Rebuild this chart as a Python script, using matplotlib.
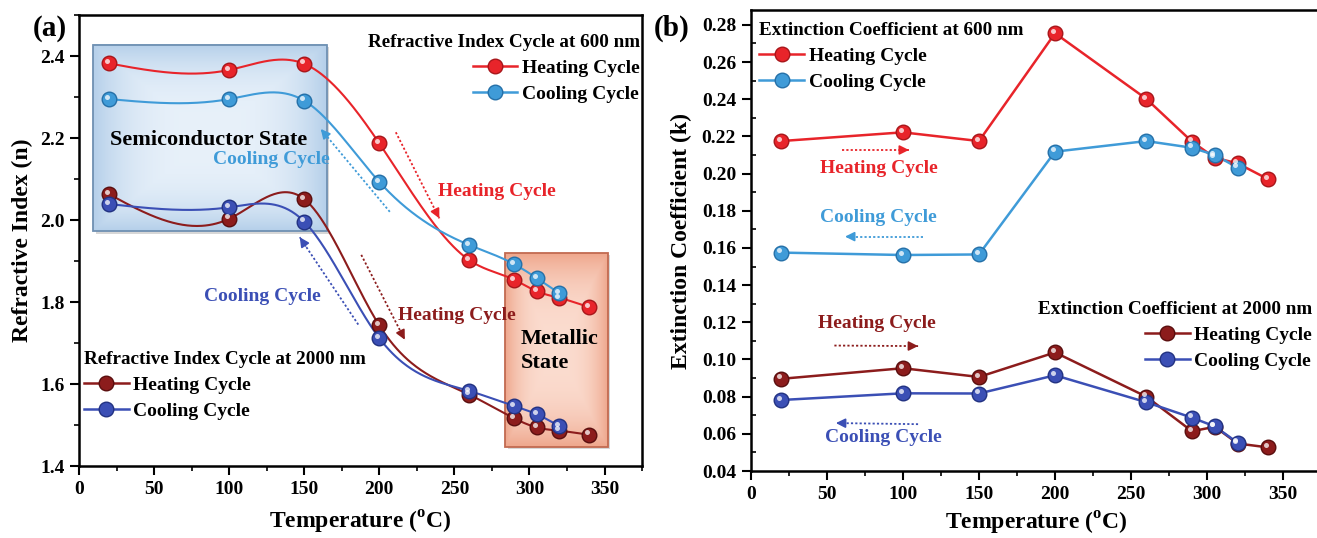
import numpy as np
import matplotlib
matplotlib.use("Agg")
from matplotlib import pyplot as plt
from matplotlib.lines import Line2D
from matplotlib.patches import Rectangle
from matplotlib.ticker import MultipleLocator, FormatStrFormatter
from matplotlib.transforms import offset_copy

plt.rcParams['font.family'] = ['Liberation Serif', 'DejaVu Serif']
plt.rcParams['font.weight'] = 'bold'
plt.rcParams['axes.labelweight'] = 'bold'
plt.rcParams['mathtext.fontset'] = 'custom'
plt.rcParams['mathtext.rm'] = 'Liberation Serif:bold'
plt.rcParams['mathtext.bf'] = 'Liberation Serif:bold'

# ---- data ----
temp_heat = [20, 100, 150, 200, 260, 290, 305, 320, 340]
temp_cool = [20, 100, 150, 200, 260, 290, 305, 320]

n600_heat = [2.382, 2.366, 2.381, 2.187, 1.902, 1.854, 1.826, 1.810, 1.787]
n600_cool = [2.295, 2.295, 2.291, 2.093, 1.939, 1.892, 1.858, 1.821]
n2000_heat = [2.063, 2.003, 2.051, 1.743, 1.574, 1.516, 1.494, 1.486, 1.476]
n2000_cool = [2.039, 2.031, 1.996, 1.712, 1.583, 1.546, 1.526, 1.497]

k600_heat = [0.2175, 0.2222, 0.2175, 0.2755, 0.2402, 0.2172, 0.2085, 0.2055, 0.1970]
k600_cool = [0.1575, 0.1562, 0.1565, 0.2118, 0.2175, 0.2139, 0.2100, 0.2032]
k2000_heat = [0.0896, 0.0953, 0.0906, 0.1038, 0.0800, 0.0614, 0.0638, 0.0548, 0.0527]
k2000_cool = [0.0782, 0.0818, 0.0817, 0.0915, 0.0770, 0.0687, 0.0640, 0.0552]

RED = '#e8242a'
LBLUE = '#3f9bd8'
DRED = '#8c1c1c'
BLUE = '#3b4fb5'
EDGE = {RED: '#a8161a', LBLUE: '#2570a8', DRED: '#5a0e0e', BLUE: '#223282'}

XLABEL = r'Temperature ($^{\mathrm{o}}$C)'


def natural_spline(x, y, n=400):
    x = np.asarray(x, float)
    y = np.asarray(y, float)
    m = len(x)
    h = np.diff(x)
    A = np.zeros((m, m))
    r = np.zeros(m)
    A[0, 0] = A[-1, -1] = 1
    for i in range(1, m - 1):
        A[i, i - 1] = h[i - 1]
        A[i, i] = 2 * (h[i - 1] + h[i])
        A[i, i + 1] = h[i]
        r[i] = 3 * ((y[i + 1] - y[i]) / h[i] - (y[i] - y[i - 1]) / h[i - 1])
    c = np.linalg.solve(A, r)
    b = (y[1:] - y[:-1]) / h - h * (2 * c[:-1] + c[1:]) / 3
    d = (c[1:] - c[:-1]) / (3 * h)
    xs = np.linspace(x[0], x[-1], n)
    idx = np.clip(np.searchsorted(x, xs) - 1, 0, m - 2)
    t = xs - x[idx]
    return xs, y[idx] + b[idx] * t + c[idx] * t ** 2 + d[idx] * t ** 3


def balls(ax, x, y, color, fig):
    ax.plot(x, y, 'o', ms=10.5, mfc=color, mec=EDGE[color], mew=1.0, ls='none', zorder=4)
    tr = offset_copy(ax.transData, fig=fig, x=-1.7, y=1.7, units='points')
    ax.plot(x, y, 'o', ms=3.6, mfc='white', mec='none', alpha=0.75, ls='none',
            transform=tr, zorder=5)


def gradient_box(ax, x0, x1, y0, y1, mid, edge, ec):
    u = np.linspace(-1, 1, 80)
    X, Y = np.meshgrid(u, u)
    w = np.maximum(np.abs(X), np.abs(Y)) ** 3
    mid = np.array(matplotlib.colors.to_rgb(mid))
    edge = np.array(matplotlib.colors.to_rgb(edge))
    img = mid[None, None, :] * (1 - w[..., None]) + edge[None, None, :] * w[..., None]
    ax.imshow(img, extent=(x0, x1, y0, y1), aspect='auto', zorder=0.5,
              interpolation='bilinear')
    ax.add_patch(Rectangle((x0 + 1.5, y0 - 0.006), x1 - x0, y1 - y0, fc='#b0b0b0',
                           ec='none', alpha=0.5, zorder=0.4))
    ax.add_patch(Rectangle((x0, y0), x1 - x0, y1 - y0, fill=False, ec=ec, lw=1.3,
                           zorder=0.6))


def dotted_arrow(ax, start, end, color):
    ax.plot([start[0], end[0]], [start[1], end[1]], ls=(0, (1.2, 1.2)), color=color,
            lw=1.3, zorder=3)
    ax.annotate('', xy=end, xytext=(start[0] + 0.9 * (end[0] - start[0]),
                                    start[1] + 0.9 * (end[1] - start[1])),
                arrowprops=dict(arrowstyle='-|>', color=color, lw=1.2,
                                mutation_scale=14, shrinkA=0, shrinkB=0), zorder=3)


def style_axes(ax, ylo, yhi, ymaj, ymin, fmt):
    ax.set_xlim(0, 375)
    ax.set_ylim(ylo, yhi)
    ax.xaxis.set_major_locator(MultipleLocator(50))
    ax.xaxis.set_minor_locator(MultipleLocator(25))
    ax.yaxis.set_major_locator(MultipleLocator(ymaj))
    ax.yaxis.set_minor_locator(MultipleLocator(ymin))
    ax.yaxis.set_major_formatter(FormatStrFormatter(fmt))
    ax.tick_params(which='major', direction='out', length=6.5, width=1.5,
                   labelsize=14, pad=4)
    ax.tick_params(which='minor', direction='out', length=3.5, width=1.2)
    for sp in ax.spines.values():
        sp.set_linewidth(1.8)


def proxy(color, label):
    return Line2D([], [], color=color, lw=1.8, marker='o', ms=10.5, mfc=color,
                  mec=EDGE[color], label=label)


def add_legend(ax, handles, title, loc, anchor, align):
    return ax.legend(handles=handles, title=title, loc=loc, bbox_to_anchor=anchor,
                     frameon=False, fontsize=14,
                     title_fontproperties={'size': 13.8, 'weight': 'bold'},
                     alignment=align, handlelength=2.3, handletextpad=0.25,
                     labelspacing=0.42, borderpad=0.1, borderaxespad=0.0)


fig = plt.figure(figsize=(13.17, 5.38), dpi=100)
ax_a = fig.add_axes([0.060, 0.1338, 0.4275, 0.8383])
ax_b = fig.add_axes([0.570, 0.1245, 0.4333, 0.8569])

# ---------------- panel (a) ----------------
gradient_box(ax_a, 9.5, 165, 1.972, 2.428, '#e8f1fa', '#b6d0ea', '#6f90b2')
gradient_box(ax_a, 284, 352, 1.447, 1.920, '#fbdccf', '#efa88e', '#c26a50')

for x, y, c in [(temp_heat, n600_heat, RED), (temp_cool, n600_cool, LBLUE),
                (temp_heat, n2000_heat, DRED), (temp_cool, n2000_cool, BLUE)]:
    xs, ys = natural_spline(x, y)
    ax_a.plot(xs, ys, color=c, lw=1.5, zorder=3)
    balls(ax_a, x, y, c, fig)

ax_a.text(86, 2.196, 'Semiconductor State', fontsize=16, ha='center', va='center')
ax_a.text(294, 1.681, 'Metallic\nState', fontsize=16, ha='left', va='center',
          linespacing=1.25)
ax_a.text(128, 2.148, 'Cooling Cycle', color=LBLUE, fontsize=14, ha='center', va='center')
ax_a.text(278, 2.069, 'Heating Cycle', color=RED, fontsize=14, ha='center', va='center')
ax_a.text(122, 1.813, 'Cooling Cycle', color=BLUE, fontsize=14, ha='center', va='center')
ax_a.text(252, 1.767, 'Heating Cycle', color=DRED, fontsize=14, ha='center', va='center')

dotted_arrow(ax_a, (207, 2.02), (161, 2.222), LBLUE)
dotted_arrow(ax_a, (211, 2.214), (240, 2.004), RED)
dotted_arrow(ax_a, (186, 1.745), (147, 1.958), BLUE)
dotted_arrow(ax_a, (188, 1.915), (217, 1.708), DRED)

leg1 = add_legend(ax_a, [proxy(RED, 'Heating Cycle'), proxy(LBLUE, 'Cooling Cycle')],
                  'Refractive Index Cycle at 600 nm', 'upper right', (1.0, 0.962), 'right')
ax_a.add_artist(leg1)
add_legend(ax_a, [proxy(DRED, 'Heating Cycle'), proxy(BLUE, 'Cooling Cycle')],
           'Refractive Index Cycle at 2000 nm', 'upper left', (0.005, 0.259), 'left')

style_axes(ax_a, 1.4, 2.5, 0.2, 0.1, '%.1f')
ax_a.set_xlabel(XLABEL, fontsize=17, labelpad=8)
ax_a.set_ylabel('Refractive Index (n)', fontsize=17, labelpad=5)
ax_a.text(-0.083, 1.0, '(a)', transform=ax_a.transAxes, fontsize=21, ha='left', va='top')

# ---------------- panel (b) ----------------
for x, y, c in [(temp_heat, k600_heat, RED), (temp_cool, k600_cool, LBLUE),
                (temp_heat, k2000_heat, DRED), (temp_cool, k2000_cool, BLUE)]:
    ax_b.plot(x, y, color=c, lw=1.8, zorder=3)
    balls(ax_b, x, y, c, fig)

ax_b.text(84, 0.2029, 'Heating Cycle', color=RED, fontsize=14, ha='center', va='center')
ax_b.text(84, 0.1764, 'Cooling Cycle', color=LBLUE, fontsize=14, ha='center', va='center')
ax_b.text(83, 0.1196, 'Heating Cycle', color=DRED, fontsize=14, ha='center', va='center')
ax_b.text(87, 0.0578, 'Cooling Cycle', color=BLUE, fontsize=14, ha='center', va='center')

dotted_arrow(ax_b, (60, 0.2127), (104, 0.2127), RED)
dotted_arrow(ax_b, (113, 0.1661), (62, 0.1661), LBLUE)
dotted_arrow(ax_b, (55, 0.1075), (110, 0.1072), DRED)
dotted_arrow(ax_b, (110, 0.0652), (56, 0.0658), BLUE)

leg3 = add_legend(ax_b, [proxy(RED, 'Heating Cycle'), proxy(LBLUE, 'Cooling Cycle')],
                  'Extinction Coefficient at 600 nm', 'upper left', (0.012, 0.978), 'left')
ax_b.add_artist(leg3)
add_legend(ax_b, [proxy(DRED, 'Heating Cycle'), proxy(BLUE, 'Cooling Cycle')],
           'Extinction Coefficient at 2000 nm', 'upper left', (0.50, 0.372), 'right')

style_axes(ax_b, 0.04, 0.288, 0.02, 0.01, '%.2f')
ax_b.tick_params(axis='y', which='minor', direction='in')
ax_b.set_xlabel(XLABEL, fontsize=17, labelpad=5)
ax_b.set_ylabel('Extinction Coefficient (k)', fontsize=17, labelpad=7)
ax_b.text(-0.17, 0.99, '(b)', transform=ax_b.transAxes, fontsize=21, ha='left', va='top')

fig.savefig('out.png', dpi=100)
